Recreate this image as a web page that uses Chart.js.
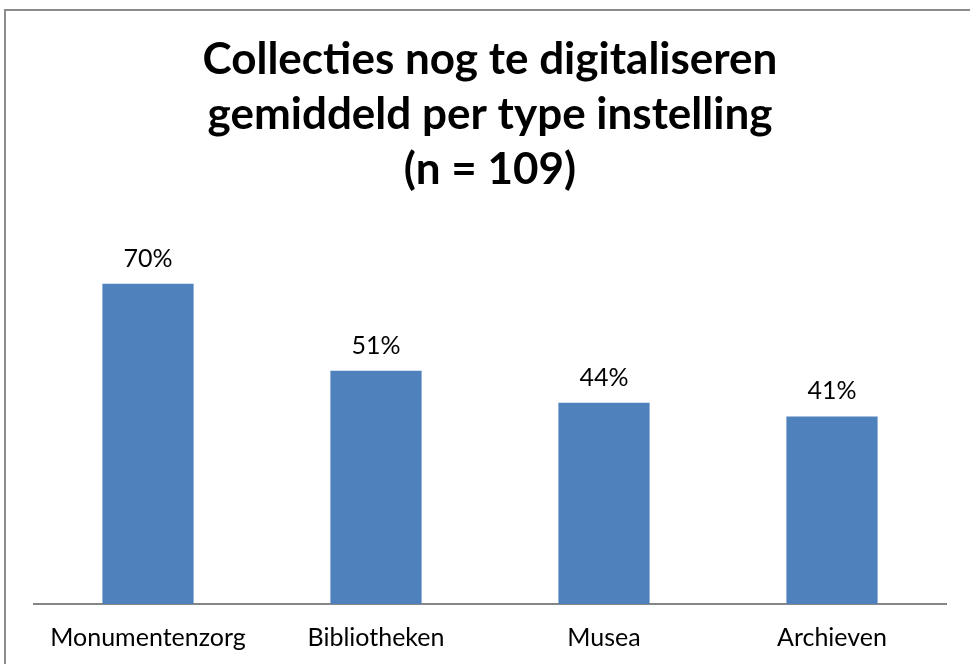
<!DOCTYPE html>
<html>
<head>
<meta charset="utf-8">
<script src="https://cdn.jsdelivr.net/npm/chart.js@4.4.1/dist/chart.umd.min.js"></script>
<style>
    html, body { margin: 0; padding: 0; background: #fff; overflow: hidden; }
    #kader { position: absolute; left: 4px; top: 9px; width: 1000px; height: 700px; border: 2px solid #8c8c8c; box-sizing: border-box; }
    #houder { position: absolute; left: 0; top: 0; width: 970px; height: 664px; }
</style>
</head>
<body>
<div id="kader"></div>
<div id="houder"><canvas id="grafiek" width="970" height="664"></canvas></div>
<script>
const categorieen = ['Monumentenzorg', 'Bibliotheken', 'Musea', 'Archieven'];
const percentages = [0.70, 0.51, 0.44, 0.41];
const titelRegels = ['Collecties nog te digitaliseren', 'gemiddeld per type instelling', '(n = 109)'];

const lettertype = 'Lato, "Open Sans", sans-serif';

// labels boven de staven
const waardeLabels = {
    id: 'waardeLabels',
    afterDatasetsDraw(chart) {
        const ctx = chart.ctx;
        const meta = chart.getDatasetMeta(0);
        ctx.save();
        ctx.font = '25px ' + lettertype;
        ctx.fillStyle = '#000';
        ctx.textAlign = 'center';
        ctx.textBaseline = 'alphabetic';
        meta.data.forEach((staaf, i) => {
            const tekst = Math.round(percentages[i] * 100) + '%';
            ctx.fillText(tekst, staaf.x, staaf.y - 17);
        });
        ctx.restore();
    }
};

new Chart(document.getElementById('grafiek'), {
    type: 'bar',
    data: {
        labels: categorieen,
        datasets: [{
            data: percentages,
            backgroundColor: '#4F81BD',
            barPercentage: 0.4,
            categoryPercentage: 1.0
        }]
    },
    options: {
        responsive: false,
        animation: false,
        layout: {
            padding: { left: 34, right: 24, top: 0, bottom: 0 }
        },
        plugins: {
            legend: { display: false },
            tooltip: { enabled: false },
            title: {
                display: true,
                text: titelRegels,
                color: '#000',
                font: { family: lettertype, size: 44, weight: 'bold', lineHeight: 1.25 },
                padding: { top: 32, bottom: 41 }
            }
        },
        scales: {
            x: {
                grid: { display: false },
                border: { color: '#868686', width: 2 },
                ticks: { color: '#000', font: { family: lettertype, size: 25 }, padding: 11 }
            },
            y: {
                display: false,
                min: 0,
                max: 0.8
            }
        }
    },
    plugins: [waardeLabels]
});
</script>
</body>
</html>
